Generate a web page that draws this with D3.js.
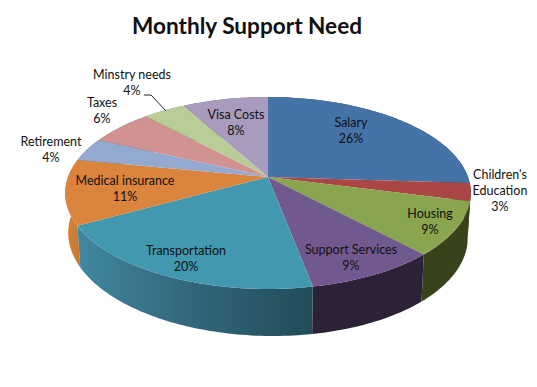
<!DOCTYPE html>
<html>
<head>
<meta charset="utf-8">
<script src="https://cdn.jsdelivr.net/npm/d3@7"></script>
<style>
  html, body { margin: 0; padding: 0; background: #fff; }
  svg { display: block; }
  text { font-family: Lato, "Open Sans", sans-serif; fill: #111; }
</style>
</head>
<body>
<svg id="chart" width="537" height="387"></svg>
<script>
// Data
const categories = ["Salary", "Children's Education", "Housing", "Support Services", "Transportation",
  "Medical insurance", "Retirement", "Taxes", "Minstry needs", "Visa Costs"];
const values = [26, 3, 9, 9, 20, 11, 4, 6, 4, 8];
const labelLines = [["Salary"], ["Children's", "Education"], ["Housing"], ["Support Services"], ["Transportation"],
  ["Medical insurance"], ["Retirement"], ["Taxes"], ["Minstry needs"], ["Visa Costs"]];

const topColors = ["#4573a7", "#aa4643", "#89a54e", "#71588f", "#4198af", "#db843d", "#93a9cf", "#d19392", "#b9cd96", "#a99bbd"];
const wallColors = ["#2a4565", "#672a28", "#38431c", "#2d2138", "url(#wallTeal)", "url(#wallOrange)", "#5a6a82", "#805a59", "#71805b", "#675e74"];

// label anchor (centre x, first baseline y), placed by hand like the original
const labelAnchors = [[351, 127], [500, 179], [430, 218], [351, 254], [186, 255], [125, 185], [51, 146], [102, 107], [132, 79], [236, 119]];
const lineHeight = 16;

const svg = d3.select("#chart");

// Tilted disc: a circle under perspective, so the hub sits above the ellipse middle
const cx = 268, cy = 177, radX = 200, radY = 93.3, persp = 1 / 6;
const baseScaleX = 0.985, baseScaleY = 1.05, baseDrop = 41.4, baseShear = 0.012;

function project(angle, isBase) {
  const ux = Math.sin(angle), uy = -Math.cos(angle);
  const w = 1 - persp * uy;
  const px = radX * ux / w, py = radY * uy / w;
  return isBase
    ? [cx + px * baseScaleX, cy + py * baseScaleY + baseDrop + px * baseShear]
    : [cx + px, cy + py];
}

function arcAngles(a0, a1) {
  const n = Math.max(2, Math.ceil((a1 - a0) / 0.02));
  return d3.range(n + 1).map(i => a0 + (a1 - a0) * i / n);
}

const pieData = d3.pie().value(d => d).sort(null)(values)
  .map((d, i) => ({ ...d, i }));

const line = d3.line();

// Gradients on the front wall
const defs = svg.append("defs");
const xScale = d3.scaleLinear().domain([0, 1]).range([76, 316]);
const tealGrad = defs.append("linearGradient").attr("id", "wallTeal")
  .attr("gradientUnits", "userSpaceOnUse").attr("x1", xScale(0)).attr("x2", xScale(1)).attr("y1", 0).attr("y2", 0);
tealGrad.append("stop").attr("offset", "0%").attr("stop-color", "#4088a0");
tealGrad.append("stop").attr("offset", "45%").attr("stop-color", "#33687c");
tealGrad.append("stop").attr("offset", "100%").attr("stop-color", "#214b58");
const orangeGrad = defs.append("linearGradient").attr("id", "wallOrange")
  .attr("gradientUnits", "userSpaceOnUse").attr("x1", 65).attr("x2", 82).attr("y1", 0).attr("y2", 0);
orangeGrad.append("stop").attr("offset", "0%").attr("stop-color", "#d98539");
orangeGrad.append("stop").attr("offset", "100%").attr("stop-color", "#c4752f");

// Walls, back to front
const wallOrder = pieData.slice().sort((a, b) =>
  -Math.cos((a.startAngle + a.endAngle) / 2) - -Math.cos((b.startAngle + b.endAngle) / 2));

svg.append("g").selectAll("path")
  .data(wallOrder)
  .join("path")
  .attr("fill", d => wallColors[d.i])
  .attr("d", d => {
    const as = arcAngles(d.startAngle, d.endAngle);
    const pts = as.map(a => project(a, false)).concat(as.slice().reverse().map(a => project(a, true)));
    return line(pts) + "Z";
  });

// Top face
svg.append("g").selectAll("path")
  .data(pieData)
  .join("path")
  .attr("fill", d => topColors[d.i])
  .attr("d", d => {
    const pts = [[cx, cy]].concat(arcAngles(d.startAngle, d.endAngle).map(a => project(a, false)));
    return line(pts) + "Z";
  });

// Leader line for Minstry needs
const leader = [[144, 95], [151, 95], [166, 111]];
svg.append("path").attr("d", line(leader)).attr("fill", "none").attr("stroke", "#222").attr("stroke-width", 1);

// Labels
const label = svg.append("g").selectAll("text")
  .data(pieData)
  .join("text")
  .attr("text-anchor", "middle")
  .attr("font-size", 12.5);

label.each(function(d) {
  const [ax, ay] = labelAnchors[d.i];
  const rows = labelLines[d.i].concat([d.value + "%"]);
  d3.select(this).selectAll("tspan")
    .data(rows)
    .join("tspan")
    .attr("x", ax)
    .attr("y", (r, j) => ay + j * lineHeight)
    .text(r => r);
});

// Title
svg.append("text")
  .attr("x", 247).attr("y", 33.5)
  .attr("text-anchor", "middle")
  .attr("font-size", 22.6)
  .attr("font-weight", 700)
  .attr("fill", "#000")
  .text("Monthly Support Need");
</script>
</body>
</html>
